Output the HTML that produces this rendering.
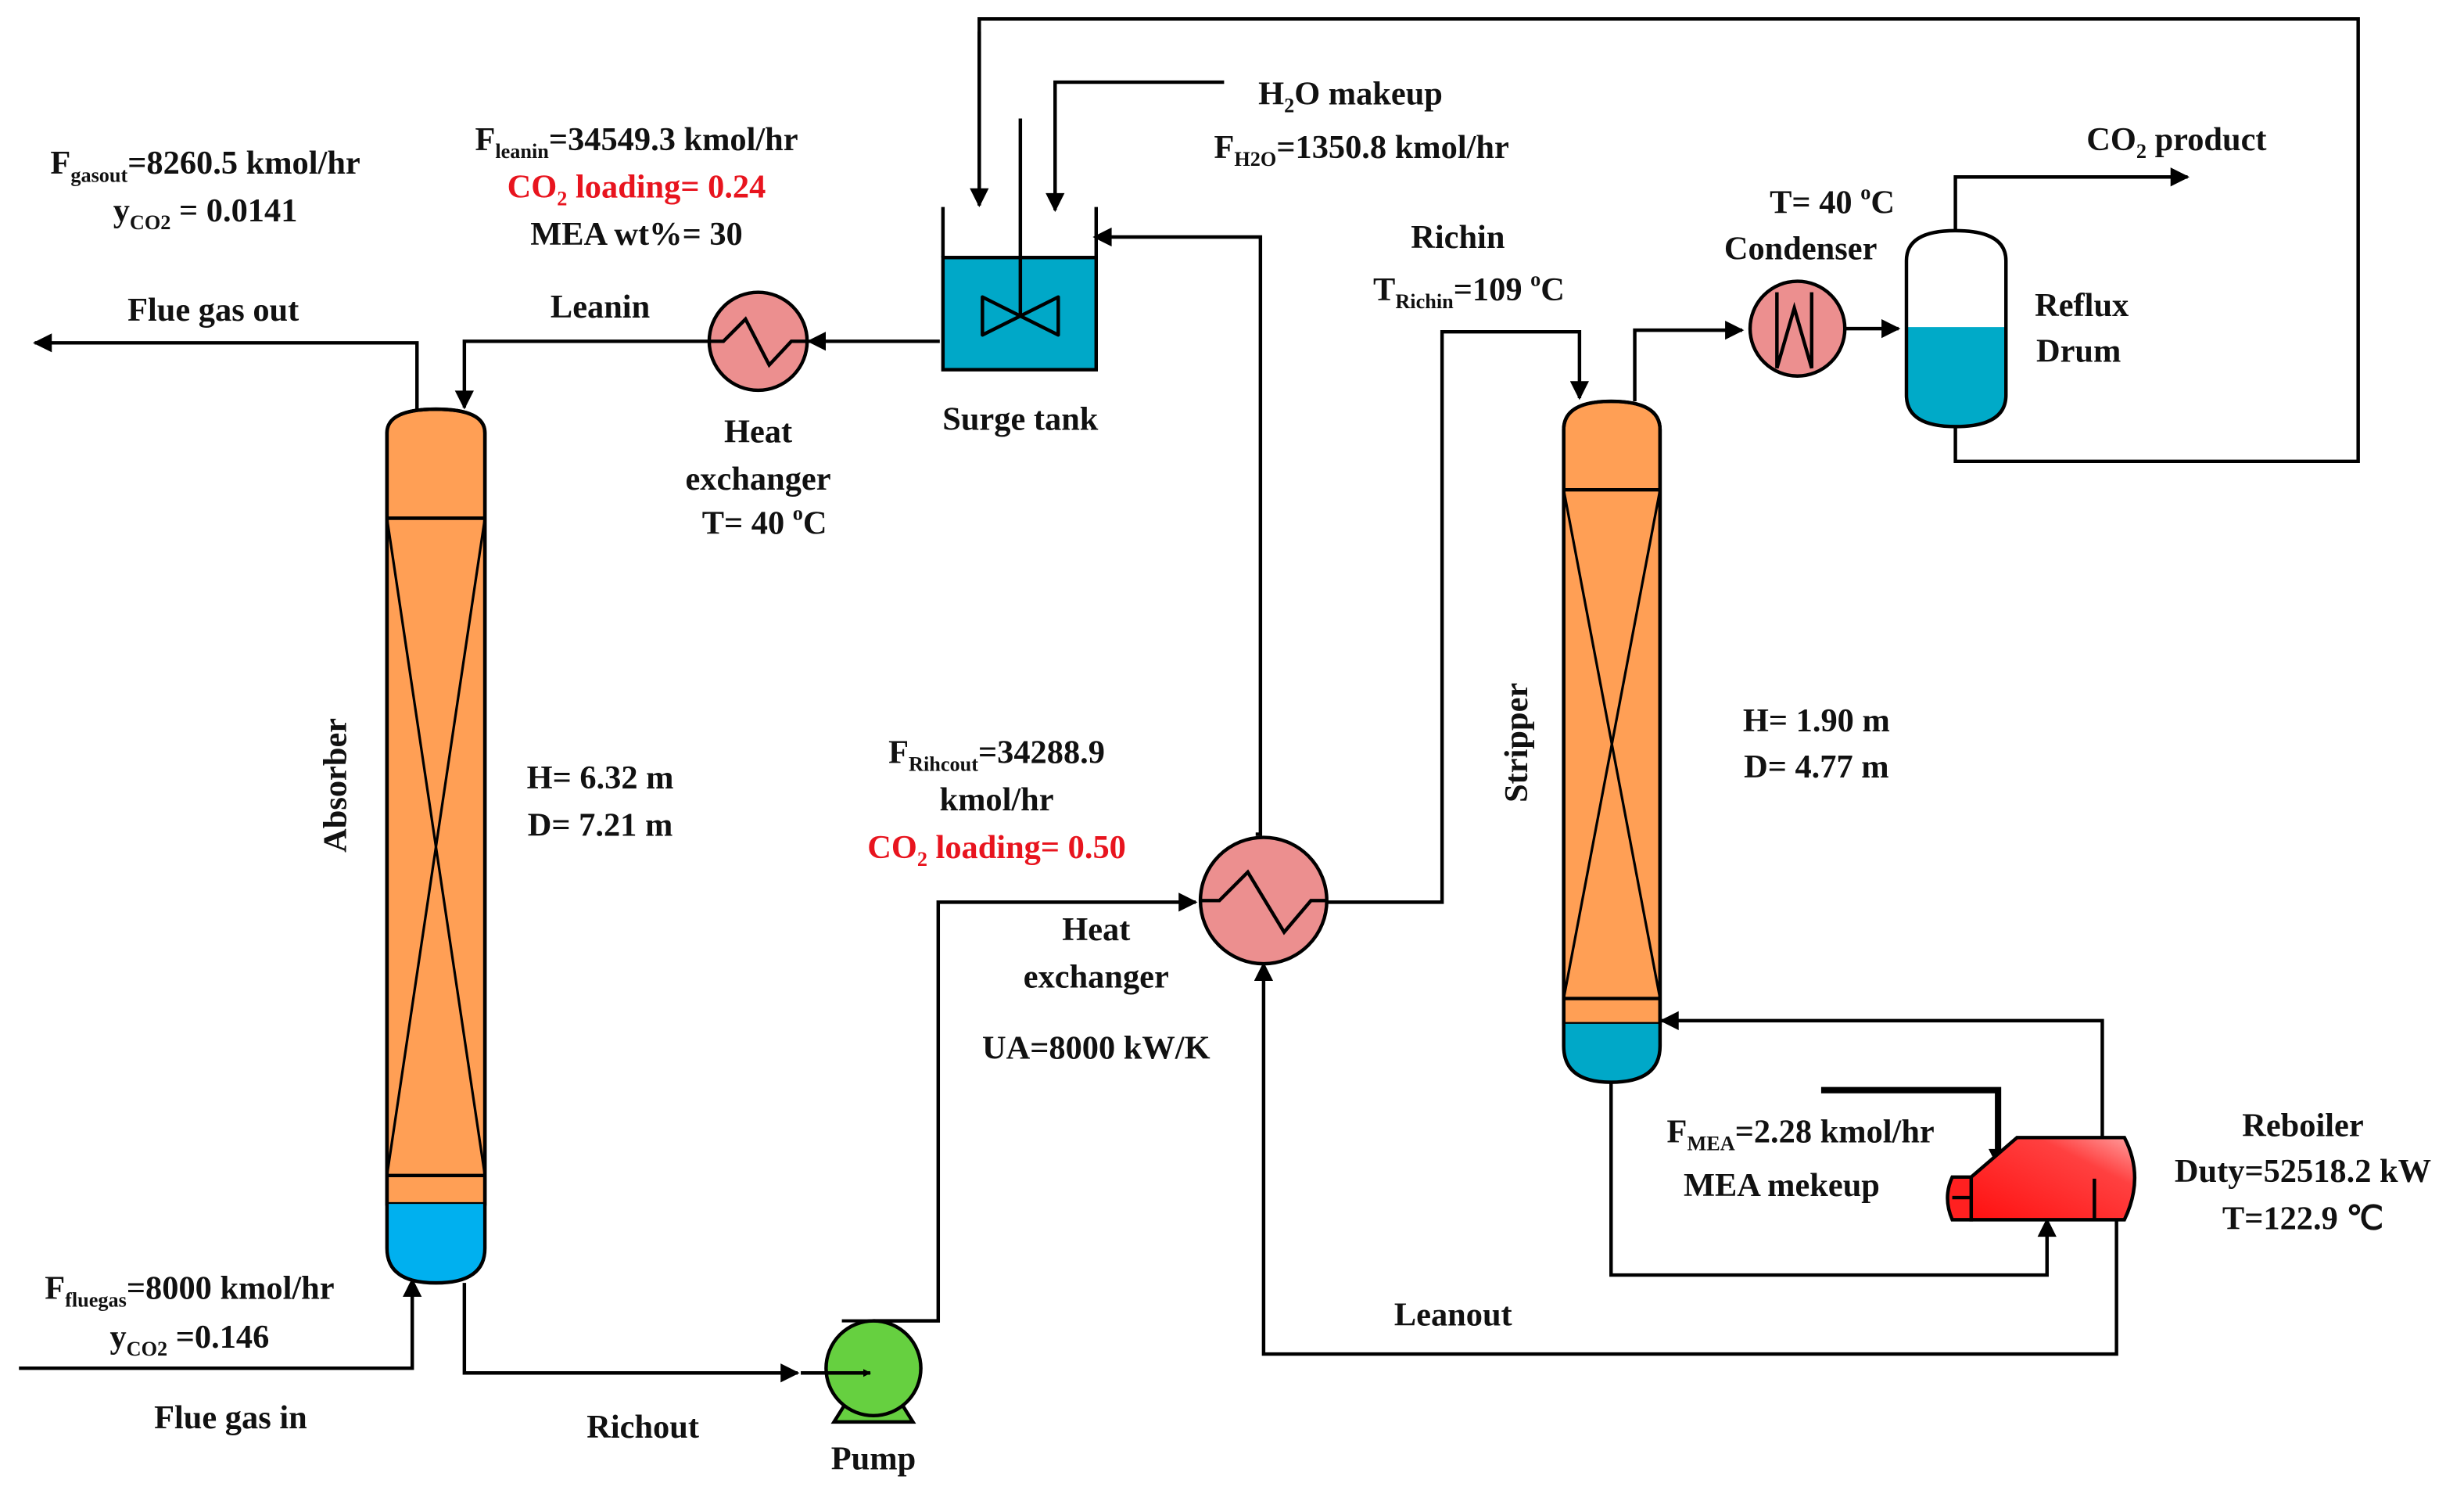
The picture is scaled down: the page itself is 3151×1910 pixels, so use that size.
<!DOCTYPE html>
<html><head><meta charset="utf-8"><style>
html,body{margin:0;padding:0;background:#fff}
svg{display:block}
text{font-family:"Liberation Serif",serif;font-weight:bold;font-size:21px;fill:#111;text-anchor:middle}
.r{fill:#e8141e}
.s{font-size:13px}
</style></head><body>
<svg width="3151" height="1910" viewBox="0 0 1560 945.6" xmlns="http://www.w3.org/2000/svg">
<defs>
<marker id="a" viewBox="0 0 10 10" refX="9" refY="5" markerWidth="5" markerHeight="5" orient="auto" markerUnits="userSpaceOnUse"><path d="M0,0 L10,5 L0,10 z" fill="#000"/></marker>
<marker id="b" viewBox="0 0 10 10" refX="9" refY="5" markerWidth="14" markerHeight="12" orient="auto" markerUnits="userSpaceOnUse"><path d="M0,0 L10,5 L0,10 z" fill="#000"/></marker>
<linearGradient id="rg" x1="0" y1="1" x2="1" y2="0"><stop offset="0" stop-color="#ff1010"/><stop offset="0.7" stop-color="#ff4040"/><stop offset="1" stop-color="#ffa0a0"/></linearGradient>
</defs>
<g fill="none" stroke="#000" stroke-width="2.2">
<!-- top recycle loop -->
<polyline points="620,130 620,12 1493,12 1493,292 1238,292 1238,268" marker-start=""/>
<line x1="620" y1="20" x2="620" y2="130" marker-end="url(#b)"/>
<!-- H2O makeup -->
<polyline points="775,52 668,52 668,133" marker-end="url(#b)"/>
<!-- HX2 top to surge tank -->
<polyline points="795,528 798,528 798,150 693,150" marker-end="url(#b)"/>
<!-- tank to HX1 -->
<line x1="595" y1="216" x2="512" y2="216" marker-end="url(#b)"/>
<!-- leanin -->
<polyline points="450,216 294,216 294,258" marker-end="url(#b)"/>
<!-- flue gas out -->
<polyline points="264,259 264,217 22,217" marker-end="url(#b)"/>
<!-- flue gas in -->
<polyline points="12,866 261,866 261,810" marker-end="url(#b)"/>
<!-- richout -->
<polyline points="294,812 294,869 505,869" marker-end="url(#b)"/>
<!-- pump to HX2 -->
<polyline points="553,836 594,836 594,571 757,571" marker-end="url(#b)"/>
<!-- HX2 to stripper -->
<polyline points="836,571 913,571 913,210 1000,210 1000,252" marker-end="url(#b)"/>
<!-- stripper top to condenser -->
<polyline points="1035,254 1035,209 1103,209" marker-end="url(#b)"/>
<line x1="1163" y1="208" x2="1202" y2="208" marker-end="url(#b)"/>
<!-- CO2 product -->
<polyline points="1238,146 1238,112 1385,112" marker-end="url(#b)"/>
<!-- reboiler return -->
<polyline points="1331,722 1331,646 1052,646" marker-end="url(#b)"/>
<!-- stripper bottom to reboiler -->
<polyline points="1020,685 1020,807 1296,807 1296,772" marker-end="url(#b)"/>
<!-- leanout -->
<polyline points="1340,772 1340,857 800,857 800,610" marker-end="url(#b)"/>
<!-- MEA makeup -->
<polyline points="1153,690 1265,690 1265,738" stroke-width="4" marker-end="url(#b)"/>
</g>
<!-- Absorber -->
<g stroke="#000" stroke-width="2.2">
<path d="M245,274 Q245,259 276,259 Q307,259 307,274 L307,762 L245,762 Z" fill="#ff9f55"/>
<path d="M245,762 L307,762 L307,790 Q307,812 276,812 Q245,812 245,790 Z" fill="#00b0ef" stroke="none"/>
<path d="M245,274 Q245,259 276,259 Q307,259 307,274 L307,790 Q307,812 276,812 Q245,812 245,790 Z" fill="none"/>
<line x1="245" y1="328" x2="307" y2="328"/>
<line x1="245" y1="744" x2="307" y2="744"/>
<line x1="245" y1="328" x2="307" y2="744" stroke-width="1.6"/>
<line x1="307" y1="328" x2="245" y2="744" stroke-width="1.6"/>
</g>
<!-- Stripper -->
<g stroke="#000" stroke-width="2.2">
<path d="M990,272 Q990,254 1020,254 Q1051,254 1051,272 L1051,648 L990,648 Z" fill="#ff9f55"/>
<path d="M990,648 L1051,648 L1051,662 Q1051,685 1020,685 Q990,685 990,662 Z" fill="#00a8c8" stroke="none"/>
<path d="M990,272 Q990,254 1020,254 Q1051,254 1051,272 L1051,662 Q1051,685 1020,685 Q990,685 990,662 Z" fill="none"/>
<line x1="990" y1="310" x2="1051" y2="310"/>
<line x1="990" y1="632" x2="1051" y2="632"/>
<line x1="990" y1="310" x2="1051" y2="632" stroke-width="1.6"/>
<line x1="1051" y1="310" x2="990" y2="632" stroke-width="1.6"/>
</g>
<!-- Reflux drum -->
<g stroke="#000" stroke-width="2.2">
<path d="M1207,207 L1270,207 L1270,250 Q1270,270 1238,270 Q1207,270 1207,250 Z" fill="#00aac8" stroke="none"/>
<path d="M1207,165 Q1207,146 1238,146 Q1270,146 1270,165 L1270,250 Q1270,270 1238,270 Q1207,270 1207,250 Z" fill="none"/>
</g>
<!-- Surge tank -->
<g stroke="#000" stroke-width="2.2">
<rect x="597" y="163" width="97" height="71" fill="#00a8c8"/>
<line x1="597" y1="131" x2="597" y2="163"/>
<line x1="694" y1="131" x2="694" y2="163"/>
<line x1="646" y1="75" x2="646" y2="200"/>
<path d="M646,200 L622,188 L622,212 Z M646,200 L670,188 L670,212 Z" fill="none" stroke-linejoin="round"/>
</g>
<!-- HX1 -->
<g stroke="#000" stroke-width="2.2">
<circle cx="480" cy="216" r="31" fill="#ec8f8f"/>
<polyline points="449,216 458,216 472,202 487,231 501,216 511,216" fill="none"/>
</g>
<!-- HX2 -->
<g stroke="#000" stroke-width="2.2">
<circle cx="800" cy="570" r="40" fill="#ec8f8f"/>
<polyline points="760,570 772,570 790,552 813,590 830,570 840,570" fill="none"/>
</g>
<!-- Condenser -->
<g stroke="#000" stroke-width="2.2">
<circle cx="1138" cy="208" r="30" fill="#ec8f8f"/>
<polyline points="1125,185 1125,233 1136,195 1147,233 1147,185" fill="none"/>
</g>
<!-- Pump -->
<g stroke="#000" stroke-width="2.2">
<path d="M528,900 L538,884 L568,884 L578,900 Z" fill="#66d040"/>
<circle cx="553" cy="866" r="30" fill="#66d040"/>
<line x1="507" y1="869" x2="551" y2="869" marker-end="url(#a)"/>
<line x1="533" y1="836" x2="571" y2="836" stroke-width="2"/>
</g>
<!-- Reboiler -->
<g stroke="#000" stroke-width="2.2">
<path d="M1248,745 L1277,720 L1345,720 Q1358,745 1345,772 L1248,772 Z" fill="url(#rg)"/>
<path d="M1248,745 L1236,745 Q1230,758 1236,772 L1248,772 Z" fill="#ff2020"/>
<line x1="1236" y1="758" x2="1248" y2="758"/>
<line x1="1326" y1="746" x2="1326" y2="772"/>
</g>
<!-- texts -->
<text x="130" y="110">F<tspan class="s" dy="5">gasout</tspan><tspan dy="-5">=8260.5 kmol/hr</tspan></text>
<text x="130" y="140">y<tspan class="s" dy="5">CO2</tspan><tspan dy="-5"> = 0.0141</tspan></text>
<text x="403" y="95">F<tspan class="s" dy="5">leanin</tspan><tspan dy="-5">=34549.3 kmol/hr</tspan></text>
<text x="403" y="125" class="r">CO<tspan class="s" dy="5">2</tspan><tspan dy="-5"> loading= 0.24</tspan></text>
<text x="403" y="155">MEA wt%= 30</text>
<text x="135" y="203">Flue gas out</text>
<text x="380" y="201">Leanin</text>
<text x="480" y="280">Heat</text>
<text x="480" y="310">exchanger</text>
<text x="484" y="338">T= 40 <tspan class="s" dy="-9">o</tspan><tspan dy="9">C</tspan></text>
<text x="646" y="272">Surge tank</text>
<text x="855" y="66">H<tspan class="s" dy="5">2</tspan><tspan dy="-5">O makeup</tspan></text>
<text x="862" y="100">F<tspan class="s" dy="5">H2O</tspan><tspan dy="-5">=1350.8 kmol/hr</tspan></text>
<text x="923" y="157">Richin</text>
<text x="930" y="190">T<tspan class="s" dy="5">Richin</tspan><tspan dy="-5">=109 </tspan><tspan class="s" dy="-9">o</tspan><tspan dy="9">C</tspan></text>
<text x="1160" y="135">T= 40 <tspan class="s" dy="-9">o</tspan><tspan dy="9">C</tspan></text>
<text x="1140" y="164">Condenser</text>
<text x="1378" y="95">CO<tspan class="s" dy="5">2</tspan><tspan dy="-5"> product</tspan></text>
<text x="1318" y="200">Reflux</text>
<text x="1316" y="229">Drum</text>
<text x="0" y="0" transform="translate(219,497) rotate(-90)">Absorber</text>
<text x="0" y="0" transform="translate(967,470) rotate(-90)">Stripper</text>
<text x="380" y="499">H= 6.32 m</text>
<text x="380" y="529">D= 7.21 m</text>
<text x="631" y="483">F<tspan class="s" dy="5">Rihcout</tspan><tspan dy="-5">=34288.9</tspan></text>
<text x="631" y="513">kmol/hr</text>
<text x="631" y="543" class="r">CO<tspan class="s" dy="5">2</tspan><tspan dy="-5"> loading= 0.50</tspan></text>
<text x="694" y="595">Heat</text>
<text x="694" y="625">exchanger</text>
<text x="694" y="670">UA=8000 kW/K</text>
<text x="1150" y="463">H= 1.90 m</text>
<text x="1150" y="492">D= 4.77 m</text>
<text x="1140" y="723">F<tspan class="s" dy="5">MEA</tspan><tspan dy="-5">=2.28 kmol/hr</tspan></text>
<text x="1128" y="757">MEA mekeup</text>
<text x="1458" y="719">Reboiler</text>
<text x="1458" y="748">Duty=52518.2 kW</text>
<text x="1458" y="778">T=122.9 ℃</text>
<text x="120" y="822">F<tspan class="s" dy="5">fluegas</tspan><tspan dy="-5">=8000 kmol/hr</tspan></text>
<text x="120" y="853">y<tspan class="s" dy="5">CO2</tspan><tspan dy="-5"> =0.146</tspan></text>
<text x="146" y="904">Flue gas in</text>
<text x="407" y="910">Richout</text>
<text x="553" y="930">Pump</text>
<text x="920" y="839">Leanout</text>
</svg>
</body></html>
